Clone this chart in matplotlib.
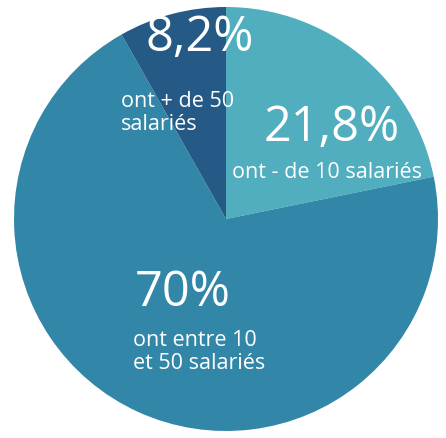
import matplotlib.pyplot as plt

shares = [21.8, 70.0, 8.2]
colors = ['#50aebf', '#3287a8', '#255a86']
big_labels = ['21,8%', '70%', '8,2%']
small_labels = ['ont - de 10 salariés', 'ont entre 10\net 50 salariés', 'ont + de 50\nsalariés']

fig = plt.figure(figsize=(4.46, 4.38), dpi=100)
ax = fig.add_axes([0, 0, 1, 1])

ax.pie(shares, colors=colors, startangle=90, counterclock=False,
       center=(226, 219), radius=212, frame=True,
       wedgeprops=dict(linewidth=0))
ax.set_xlim(0, 446)
ax.set_ylim(0, 438)
ax.set_aspect('equal')
ax.axis('off')

big_font = dict(family='Open Sans', color='white', fontsize=35)
small_font = dict(family='Open Sans', color='white', fontsize=15.5,
                  linespacing=1.12)

# big numbers
ax.text(332, 438 - 128, big_labels[0], ha='center', va='center', **big_font)
ax.text(183, 438 - 293, big_labels[1], ha='center', va='center', **big_font)
ax.text(200, 438 - 38, big_labels[2], ha='center', va='center', **big_font)

# descriptions
ax.text(232, 438 - 172, small_labels[0], ha='left', va='center', **small_font)
ax.text(133, 438 - 352, small_labels[1], ha='left', va='center', **small_font)
ax.text(121, 438 - 113, small_labels[2], ha='left', va='center', **small_font)

fig.savefig('out.png', dpi=100, facecolor='white')
